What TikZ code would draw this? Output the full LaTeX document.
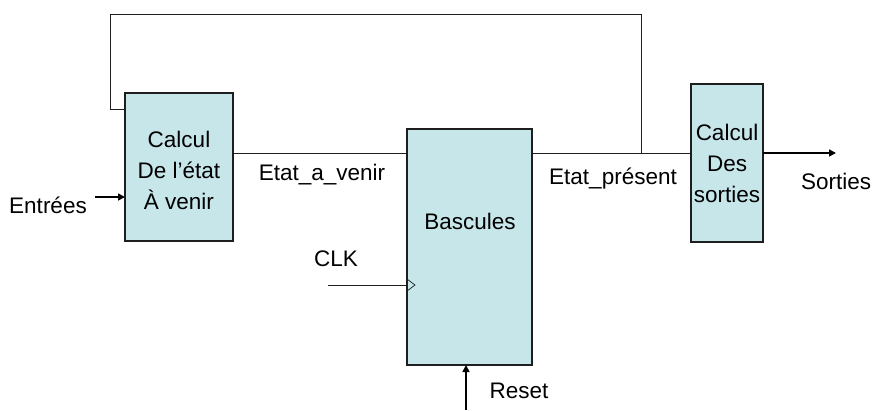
\documentclass[tikz,border=0pt]{standalone}
\usepackage{fontspec}
\setmainfont{Liberation Sans}
\usetikzlibrary{arrows.meta}
\definecolor{boxfill}{RGB}{198,230,234}
\definecolor{wire}{RGB}{30,30,30}
\begin{document}
\begin{tikzpicture}[x=1pt,y=-1pt,
  block/.style={draw=wire,line width=1.2pt,fill=boxfill,inner sep=0pt},
  lbl/.style={font=\fontsize{22.5}{31}\selectfont,inner sep=0pt},
  wireline/.style={draw=wire,line width=0.9pt},
  sigarrow/.style={draw=black,line width=1.6pt,-{Triangle[length=7pt,width=7pt]}}]
\useasboundingbox (0,0) rectangle (874,410);
% blocks
\path[block] (125,93) rectangle (233,241);
\path[block] (407,129) rectangle (532,365);
\path[block] (691,84) rectangle (763,242);
\node[lbl,align=center] (calcA) at (179,170) {Calcul\\De l’état\\À venir};
\node[lbl] (basc) at (470,221) {Bascules};
\node[lbl,align=center] (calcS) at (727,163) {Calcul\\Des\\sorties};
% anchor points on the block edges
\coordinate (aIn) at (125,197);
\coordinate (aFb) at (125,109);
\coordinate (aOut) at (233,153);
\coordinate (bIn) at (407,153);
\coordinate (bClk) at (407,285);
\coordinate (bRst) at (466,365);
\coordinate (bOut) at (532,153);
\coordinate (sIn) at (691,153);
\coordinate (sOut) at (763,153);
\coordinate (tap) at (641,153);
\coordinate (inStart) at (95,197);
\coordinate (clkStart) at (328,285);
\coordinate (rstStart) at (466,410);
\coordinate (outEnd) at (836,153);
% wires
\draw[wireline] (aOut) -- (bIn);
\draw[wireline] (bOut) -- (sIn);
\draw[wireline] (tap) -- (641,14) -- (110,14) |- (aFb);
\draw[wireline] (clkStart) -- (bClk);
\draw[wireline,line width=0.7pt] (407,279) -- (415,285) -- (407,291);
% signal arrows
\draw[sigarrow] (inStart) -- (aIn);
\draw[sigarrow] (sOut) -- (outEnd);
\draw[sigarrow] (rstStart) -- (bRst);
% labels
\node[lbl] (ent) at (48,205) {Entrées};
\node[lbl] (ev) at (322,175) {Etat\_a\_venir};
\node[lbl] (ep) at (613,179) {Etat\_présent};
\node[lbl] (sor) at (836,181) {Sorties};
\node[lbl] (clk) at (336,259) {CLK};
\node[lbl] (rst) at (519,391) {Reset};
\end{tikzpicture}
\end{document}
